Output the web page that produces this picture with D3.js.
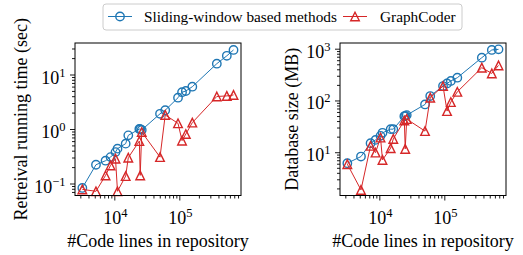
<!DOCTYPE html>
<html>
<head>
<meta charset="utf-8">
<script src="https://cdn.jsdelivr.net/npm/d3@7"></script>
<style>
  html, body { margin: 0; padding: 0; background: #fff; }
  svg { display: block; }
  svg text { font-family: "Liberation Serif", "DejaVu Serif", serif; }
</style>
</head>
<body>
<svg id="chart" width="523" height="255"></svg>
<script>
// ---- data ----
const codeLines = [3220, 5220, 7330, 8750, 10430, 11190, 14950, 16400, 24260, 25020, 26400,
  50470, 60700, 95500, 110100, 126000, 158500, 377600, 538000, 682000];
const slidingTime = [0.083, 0.221, 0.262, 0.305, 0.377, 0.436, 0.539, 0.765, 1.0, 0.99, 0.96,
  1.90, 2.21, 3.75, 4.73, 4.98, 5.97, 15.8, 22.0, 28.2];
const graphTime = [0.078, 0.072, 0.141, 0.215, 0.285, 0.072, 0.137, 0.298, 0.601, 0.141, 0.881,
  0.305, 1.81, 1.27, 0.612, 0.809, 1.31, 3.95, 4.05, 4.22];
const slidingSize = [6.14, 8.24, 14.96, 17.3, 20.7, 23.7, 27.9, 27.9, 49.4, 50.5, 52.1,
  83.7, 121.7, 190, 213, 238, 275, 671, 946, 971];
const graphSize = [5.88, 1.87, 13.3, 9.84, 19.2, 7.11, 12.0, 18.1, 41.0, 11.6, 43.7,
  25.6, 113, 190, 62.4, 93.1, 147, 430, 333, 476];
const seriesNames = ["Sliding-window based methods", "GraphCoder"];
const xMajorTicks = [1e4, 1e5];
const leftYMajorTicks = [0.1, 1, 10];
const rightYMajorTicks = [10, 100, 1000];
const xLabel = "#Code lines in repository";
const leftYLabel = "Retreival running time (sec)";
const rightYLabel = "Database size (MB)";

// ---- styles ----
const BLUE = "#1f77b4", RED = "#d62728";
const FONT = "'Liberation Serif', 'DejaVu Serif', serif";
const svg = d3.select("#chart");

function supLabel(sel, v) {
  const e = Math.round(Math.log10(v));
  sel.append("tspan").attr("font-size", 18).text("10");
  sel.append("tspan").attr("font-size", 12.5).attr("dy", -7)
    .text(e < 0 ? "\u2212" + Math.abs(e) : String(e));
}

function trianglePath(r) {
  return `M0,${-r}L${r},${r}L${-r},${r}Z`;
}

function panel(cfg) {
  const {x0, x1, y0, y1, xDomain, yDomain, yMajor, ys, yLabel, yLabelX} = cfg;
  const x = d3.scaleLog().domain(xDomain).range([x0, x1]);
  const y = d3.scaleLog().domain(yDomain).range([y1, y0]);
  const g = svg.append("g");

  const isPow = v => Math.abs(Math.log10(v) - Math.round(Math.log10(v))) < 1e-9;
  const xMinor = x.ticks().filter(v => !isPow(v));
  const yMinor = y.ticks().filter(v => !isPow(v));

  const axMinX = g.append("g").attr("transform", `translate(0,${y1})`)
    .call(d3.axisBottom(x).tickValues(xMinor).tickSize(3).tickFormat(() => ""));
  const axMajX = g.append("g").attr("transform", `translate(0,${y1})`)
    .call(d3.axisBottom(x).tickValues(xMajorTicks).tickSize(5).tickFormat(() => ""));
  const axMinY = g.append("g").attr("transform", `translate(${x0},0)`)
    .call(d3.axisLeft(y).tickValues(yMinor).tickSize(3).tickFormat(() => ""));
  const axMajY = g.append("g").attr("transform", `translate(${x0},0)`)
    .call(d3.axisLeft(y).tickValues(yMajor).tickSize(5).tickFormat(() => ""));
  [axMinX, axMajX, axMinY, axMajY].forEach(a => {
    a.select(".domain").remove();
    a.selectAll("line").attr("stroke", "#000").attr("stroke-width", 0.9);
  });

  xMajorTicks.forEach(v => {
    const t = g.append("text").attr("x", x(v) + 1).attr("y", y1 + 28)
      .attr("font-family", FONT)
      .attr("text-anchor", "middle").attr("fill", "#000");
    supLabel(t, v);
  });
  yMajor.forEach(v => {
    const t = g.append("text").attr("x", x0 - 9.5).attr("y", y(v) + 9)
      .attr("font-family", FONT)
      .attr("text-anchor", "end").attr("fill", "#000");
    supLabel(t, v);
  });

  g.append("text").attr("x", (x0 + x1) / 2).attr("y", 247).attr("font-family", FONT)
    .attr("text-anchor", "middle").attr("font-size", 18).attr("fill", "#000").text(xLabel);
  g.append("text").attr("transform", `translate(${yLabelX},${(y0 + y1) / 2}) rotate(-90)`)
    .attr("font-family", FONT)
    .attr("text-anchor", "middle").attr("font-size", 18).attr("fill", "#000").text(yLabel);

  const line = d3.line().x(d => x(d[0])).y(d => y(d[1]));
  const blueData = codeLines.map((c, i) => [c, ys[0][i]]);
  const redData = codeLines.map((c, i) => [c, ys[1][i]]);

  const plot = g.append("g");
  plot.append("path").datum(blueData).attr("d", line)
    .attr("fill", "none").attr("stroke", BLUE).attr("stroke-width", 1);
  plot.selectAll("circle.pt").data(blueData).enter().append("circle")
    .attr("cx", d => x(d[0])).attr("cy", d => y(d[1])).attr("r", 4.2)
    .attr("fill", "none").attr("stroke", BLUE).attr("stroke-width", 1.4);
  plot.append("path").datum(redData).attr("d", line)
    .attr("fill", "none").attr("stroke", RED).attr("stroke-width", 1);
  plot.selectAll("path.tri").data(redData).enter().append("path")
    .attr("class", "tri")
    .attr("transform", d => `translate(${x(d[0])},${y(d[1])})`)
    .attr("d", trianglePath(4.3))
    .attr("fill", "none").attr("stroke", RED).attr("stroke-width", 1.4);

  g.append("rect").attr("x", x0).attr("y", y0).attr("width", x1 - x0).attr("height", y1 - y0)
    .attr("fill", "none").attr("stroke", "#000").attr("stroke-width", 1);
}

panel({
  x0: 75, x1: 241, y0: 43, y1: 195.5,
  xDomain: [Math.pow(10, 3.395), Math.pow(10, 5.949)],
  yDomain: [Math.pow(10, -1.220), Math.pow(10, 1.578)],
  yMajor: leftYMajorTicks, ys: [slidingTime, graphTime],
  yLabel: leftYLabel, yLabelX: 26.5
});
panel({
  x0: 340, x1: 506, y0: 43, y1: 195.5,
  xDomain: [Math.pow(10, 3.395), Math.pow(10, 5.949)],
  yDomain: [Math.pow(10, 0.164), Math.pow(10, 3.110)],
  yMajor: rightYMajorTicks, ys: [slidingSize, graphSize],
  yLabel: rightYLabel, yLabelX: 297.5
});

// ---- legend ----
const lg = svg.append("g");
lg.append("rect").attr("x", 103).attr("y", 4).attr("width", 359).attr("height", 26)
  .attr("rx", 3).attr("fill", "#fff").attr("fill-opacity", 0.9)
  .attr("stroke", "#cccccc").attr("stroke-width", 1);
const ly = 16.5;
lg.append("line").attr("x1", 108).attr("x2", 132).attr("y1", ly).attr("y2", ly)
  .attr("stroke", BLUE).attr("stroke-width", 1);
lg.append("circle").attr("cx", 120).attr("cy", ly).attr("r", 4.2)
  .attr("fill", "none").attr("stroke", BLUE).attr("stroke-width", 1.4);
lg.append("text").attr("x", 144).attr("y", 21.5).attr("font-size", 15.3).attr("font-family", FONT)
  .attr("fill", "#000").text(seriesNames[0]);
lg.append("line").attr("x1", 343).attr("x2", 367).attr("y1", ly).attr("y2", ly)
  .attr("stroke", RED).attr("stroke-width", 1);
lg.append("path").attr("transform", `translate(355,${ly})`).attr("d", trianglePath(4.3))
  .attr("fill", "none").attr("stroke", RED).attr("stroke-width", 1.4);
lg.append("text").attr("x", 380).attr("y", 21.5).attr("font-size", 15.3).attr("font-family", FONT)
  .attr("fill", "#000").text(seriesNames[1]);
</script>
</body>
</html>
